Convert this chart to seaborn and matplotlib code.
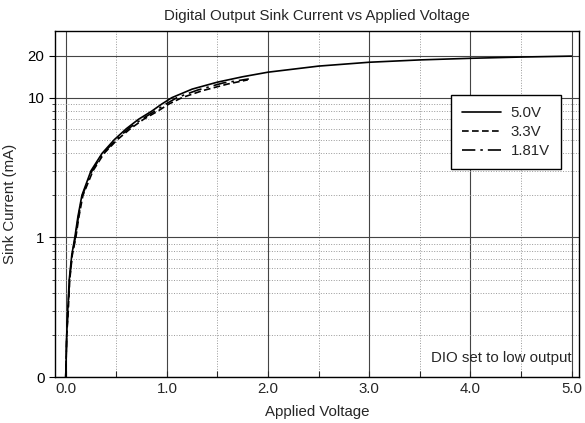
import pandas as pd
import matplotlib
matplotlib.use("Agg")
import matplotlib.pyplot as plt
import matplotlib.ticker as mticker
import seaborn as sns

# sink current curves (mA) vs applied voltage (V)
v_50 = [0.0, 0.01, 0.02, 0.035, 0.06, 0.09, 0.12, 0.16, 0.25, 0.36, 0.48, 0.60, 0.72, 0.85, 0.95,
        1.05, 1.25, 1.5, 1.75, 2.0, 2.5, 3.0, 3.5, 4.0, 4.5, 5.0]
i_50 = [0.1, 0.2, 0.3, 0.5, 0.75, 1.0, 1.4, 2.0, 3.0, 4.0, 5.0, 6.0, 7.0, 8.0, 9.0,
        10.0, 11.5, 12.9, 14.1, 15.2, 16.8, 17.9, 18.6, 19.1, 19.5, 19.8]

v_33 = [0.0, 0.01, 0.025, 0.04, 0.065, 0.1, 0.13, 0.17, 0.27, 0.38, 0.51, 0.64, 0.77, 0.91, 1.02,
        1.15, 1.35, 1.6, 1.8]
i_33 = [0.1, 0.2, 0.3, 0.5, 0.75, 1.0, 1.4, 2.0, 3.0, 4.0, 5.0, 6.0, 7.0, 8.0, 9.0,
        10.0, 11.2, 12.5, 13.4]

v_181 = [0.0, 0.01, 0.022, 0.038, 0.063, 0.095, 0.125, 0.165, 0.26, 0.37, 0.50, 0.62, 0.75, 0.88, 0.99,
         1.10, 1.3, 1.55, 1.81]
i_181 = [0.1, 0.2, 0.3, 0.5, 0.75, 1.0, 1.4, 2.0, 3.0, 4.0, 5.0, 6.0, 7.0, 8.0, 9.0,
         10.0, 11.3, 12.7, 13.6]

series = ["5.0V", "3.3V", "1.81V"]

y_ticks = [0.1, 1, 10, 20]
y_labels = ["0", "1", "10", "20"]
x_ticks = [0, 1, 2, 3, 4, 5]
x_labels = ["0.0", "1.0", "2.0", "3.0", "4.0", "5.0"]

df = pd.concat([
    pd.DataFrame({"V": v_50, "I": i_50, "series": series[0]}),
    pd.DataFrame({"V": v_33, "I": i_33, "series": series[1]}),
    pd.DataFrame({"V": v_181, "I": i_181, "series": series[2]}),
], ignore_index=True)

sns.set_style("white")
plt.rcParams["font.family"] = ["Liberation Sans", "DejaVu Sans"]
fs = 10.8

fig = plt.figure(figsize=(5.85, 4.23), dpi=100)
ax = fig.add_axes([0.094, 0.108, 0.896, 0.819])

sns.lineplot(data=df, x="V", y="I", style="series", style_order=series,
             dashes={"5.0V": "", "3.3V": (4, 2), "1.81V": (8, 3, 1.5, 3)},
             color="black", linewidth=1.2, sort=False, estimator=None, ax=ax)

ax.set_yscale("log")
ax.set_ylim(0.1, 30)
ax.set_xlim(-0.106, 5.075)

ax.yaxis.set_major_locator(mticker.FixedLocator(y_ticks))
ax.yaxis.set_major_formatter(mticker.FixedFormatter(y_labels))
ax.yaxis.set_minor_locator(mticker.FixedLocator([0.2, 0.3, 0.4, 0.5, 0.6, 0.7, 0.8, 0.9,
                                                 2, 3, 4, 5, 6, 7, 8, 9]))
ax.yaxis.set_minor_formatter(mticker.NullFormatter())
ax.xaxis.set_major_locator(mticker.FixedLocator(x_ticks))
ax.xaxis.set_major_formatter(mticker.FixedFormatter(x_labels))
ax.xaxis.set_minor_locator(mticker.FixedLocator([0.5, 1.5, 2.5, 3.5, 4.5]))

ax.grid(which="major", color="#444444", linewidth=0.8, linestyle="-")
ax.grid(which="minor", color="#999999", linewidth=0.7, linestyle=":")

ax.tick_params(axis="y", which="major", direction="out", length=4, width=0.8, colors="black", labelsize=fs, left=True)
ax.tick_params(axis="y", which="minor", direction="out", length=2, width=0.6, left=True)
ax.tick_params(axis="x", which="both", direction="in", length=4, width=0.8, labelsize=fs, bottom=True)

for s in ax.spines.values():
    s.set_color("black")
    s.set_linewidth(1.0)

ax.set_title("Digital Output Sink Current vs Applied Voltage", fontsize=fs, pad=8)
ax.set_xlabel("Applied Voltage", fontsize=fs, labelpad=6)
ax.set_ylabel("Sink Current (mA)", fontsize=fs, labelpad=8)

ax.text(5.0, 0.137, "DIO set to low output", ha="right", va="center", fontsize=fs)

handles, labels = ax.get_legend_handles_labels()
leg = ax.legend(handles, labels, loc="upper right", bbox_to_anchor=(0.965, 0.815),
                borderaxespad=0, frameon=True, fancybox=False, edgecolor="black", fontsize=fs,
                handlelength=2.6, borderpad=0.75, labelspacing=0.32, handletextpad=0.6)
leg.get_frame().set_linewidth(1.0)
leg.get_frame().set_alpha(1)

fig.savefig("out.png", dpi=100)
